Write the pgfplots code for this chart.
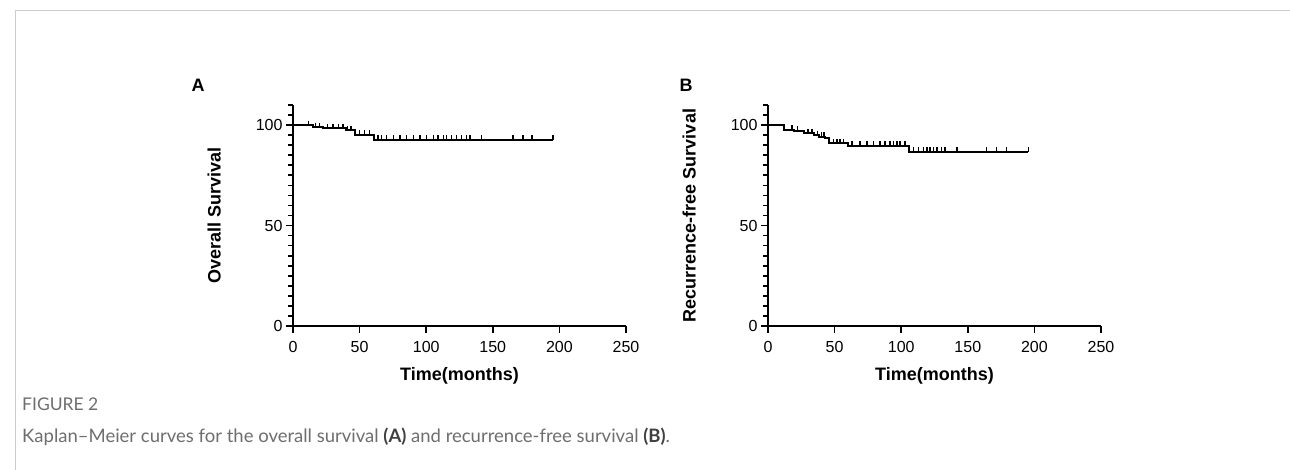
\documentclass[border=0pt]{standalone}
\usepackage{fontspec}
\setmainfont{Liberation Sans}
\newfontfamily\capfont{Lato}
\usepackage{pgfplots}
\pgfplotsset{compat=1.18}
\definecolor{capgray}{HTML}{6E6E6E}
\definecolor{framegray}{HTML}{CCCCCC}

\pgfplotsset{km/.style={
  scale only axis, width=333pt, height=221pt,
  xmin=0, xmax=250, ymin=0, ymax=110,
  axis x line*=bottom, axis y line*=left,
  axis line style={line width=2pt, -},
  xtick={0,50,...,250}, ytick={0,50,100},
  minor ytick={5,10,...,110},
  hide obscured x ticks=false, hide obscured y ticks=false,
  tick align=outside, major tick length=7pt, minor tick length=5pt,
  every tick/.style={black, line width=1.7pt},
  /pgf/number format/assume math mode=true,
  tick label style={font=\fontsize{16}{18}\selectfont},
  xticklabel style={yshift=-5pt},
  label style={font=\bfseries\fontsize{18}{20}\selectfont},
  xlabel style={at={(axis description cs:0.5,0)}, anchor=center, yshift=-50pt},
  ylabel style={at={(axis description cs:-0.237,0.5)}, anchor=center},
  clip=false,
  curve/.style={const plot, black, line width=2pt},
  cens/.style={only marks, mark=|, mark size=2.2pt,
    mark options={black, line width=1.5pt, yshift=2.2pt}},
}}

\begin{document}
\begin{tikzpicture}[x=1pt, y=1pt]
\useasboundingbox (0,0) rectangle (1290,470);
\fill[white] (0,0) rectangle (1290,470);
\draw[framegray, line width=1pt] (15,0) -- (15,459) -- (1290,459);

% A: overall survival
\begin{axis}[km, at={(293pt,144pt)}, anchor=south west,
  xlabel={Time(months)}, ylabel={Overall Survival}]
\addplot[curve] coordinates {
  (0,100) (15,99.0) (22.5,98.3) (40,97.6) (46.5,95.3) (61,92.8) (195.5,92.8)};
\addplot[cens] coordinates {
  (11.5,100) (17,99.0) (20,99.0)
  (26,98.3) (30,98.3) (34,98.3) (37.5,98.3)
  (41,97.6) (43.5,97.6)
  (50,95.3) (53.8,95.3) (57.5,95.3)
  (63.8,92.8) (66.3,92.8) (70.3,92.8) (75.3,92.8) (80.3,92.8) (85.3,92.8)
  (90.3,92.8) (95.3,92.8) (100.3,92.8) (105.3,92.8) (109,92.8) (112.8,92.8)
  (115.3,92.8) (119,92.8) (122.8,92.8) (126.5,92.8) (130.3,92.8) (132.8,92.8)
  (141.5,92.8) (165.3,92.8) (172.8,92.8) (179.5,92.8) (195.3,92.8)};
\end{axis}

% B: recurrence-free survival
\begin{axis}[km, at={(768pt,144pt)}, anchor=south west,
  xlabel={Time(months)}, ylabel={Recurrence-free Survival}]
\addplot[curve] coordinates {
  (0,100) (12,97.8) (19.5,97.2) (27,95.9) (34.5,95.0) (38,94.2) (43,93.4)
  (45.5,90.9) (60,89.8) (105.5,86.7) (195.4,86.7)};
\addplot[cens] coordinates {
  (18,97.8) (22,97.2) (30,95.9) (33,95.9) (37,95.0) (40,94.2) (42,94.2)
  (49.2,90.9) (51.7,90.9) (54.2,90.9) (56.7,90.9)
  (62.9,89.8) (69.2,89.8) (74.2,89.8) (79.2,89.8) (84.2,89.8) (87.9,89.8)
  (91.7,89.8) (94.2,89.8) (96.7,89.8) (99.2,89.8) (102.9,89.8)
  (109.2,86.7) (112.9,86.7) (116.7,86.7) (119.2,86.7) (121.7,86.7) (124.2,86.7)
  (126.7,86.7) (130.4,86.7) (132.9,86.7) (141.7,86.7) (164.2,86.7) (171.7,86.7)
  (179.2,86.7) (195.4,86.7)};
\end{axis}

\node[font=\bfseries\fontsize{18}{20}\selectfont] at (198,385) {A};
\node[font=\bfseries\fontsize{18}{20}\selectfont] at (686,385) {B};

\node[anchor=base west, inner sep=0, text=capgray, font=\capfont\fontsize{17.5}{20}\selectfont]
  at (22,59) {FIGURE 2};
\node[anchor=base west, inner sep=0, text=capgray, font=\capfont\fontsize{18.5}{21}\selectfont]
  at (22,27) {Kaplan–Meier curves for the overall survival {\color{black!75}\bfseries(A)} and recurrence-free survival {\color{black!75}\bfseries(B)}.};
\end{tikzpicture}
\end{document}
